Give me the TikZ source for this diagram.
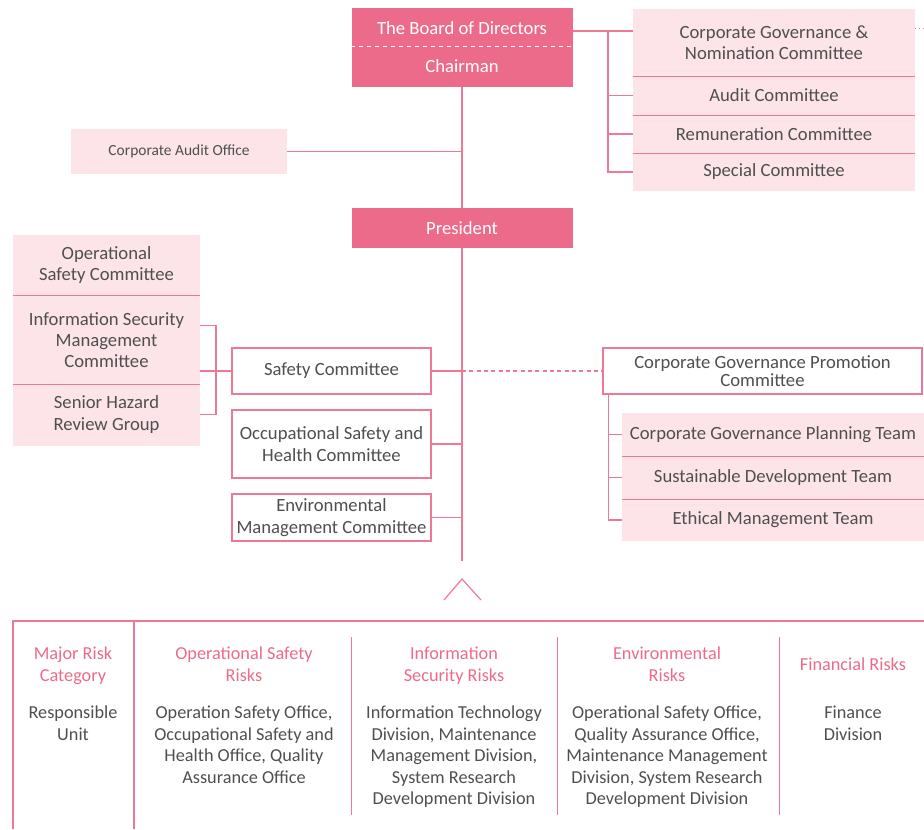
\documentclass[tikz,border=0pt]{standalone}
\usepackage{fontspec}
\setmainfont{Carlito}
\usetikzlibrary{calc}
\definecolor{rose}{HTML}{EC6B8B}
\definecolor{blush}{HTML}{FDE4E9}
\definecolor{rosel}{HTML}{EF7896}
\definecolor{ink}{HTML}{4F4F4F}
\begin{document}
\begin{tikzpicture}[x=0.75pt,y=-0.75pt,
  wh/.style 2 args={minimum width=#1*0.75pt,minimum height=#2*0.75pt,inner sep=0pt},
  head/.style={fill=rose,text=white,font=\fontsize{14}{16}\selectfont},
  headtxt/.style={text=white,font=\fontsize{14}{16}\selectfont},
  soft/.style={fill=blush,text=ink,align=center,font=\fontsize{14}{16}\selectfont},
  outline/.style={draw=rosel,line width=0.9pt,fill=white,text=ink,align=center,font=\fontsize{14}{16}\selectfont},
  link/.style={draw=rosel,line width=0.9pt},
  cell/.style={align=center,anchor=north,inner sep=0pt,text=ink,font=\fontsize{13.7}{16.1}\selectfont},
  cellhead/.style={cell,text=rose,font=\fontsize{13.7}{16.5}\selectfont}]
\useasboundingbox (0,0) rectangle (924,829);
% board and committees
\node[head,wh={221}{79}] (board) at (462,47.5) {};
\node[headtxt] (bod) at (462,28) {The Board of Directors};
\node[headtxt] (chair) at (462,66) {Chairman};
\draw[white,dashed,line width=0.6pt] (board.west |- 0,46) -- (board.east |- 0,46);
\node[soft,wh={282}{67}] (cgn) at (774,42.5) {Corporate Governance \&\\Nomination Committee};
\node[soft,wh={282}{39}] (audit) at (774,95.5) {Audit Committee};
\node[soft,wh={282}{38}] (remu) at (774,134) {Remuneration Committee};
\node[soft,wh={282}{38}] (special) at (774,172) {Special Committee};
\foreach \a in {cgn,audit,remu} \draw[link] (\a.south west) -- (\a.south east);
\coordinate (bj) at (608,31);
\draw[link] (board.east |- bj) -- (cgn.west |- bj);
\draw[link] (bj) |- (special.west);
\draw[link] (bj |- audit.west) -- (audit.west);
\draw[link] (bj |- remu.west) -- (remu.west);
\draw[link,dotted] ([yshift=-15pt]cgn.north east) -- ++(9,0);
% president
\node[soft,wh={216}{45},font=\fontsize{11.6}{13}\selectfont] (cao) at (179,151.5) {Corporate Audit Office};
\node[head,wh={221}{40}] (pres) at (462,228) {President};
\draw[link] (board.south) -- (pres.north);
\draw[link] (cao.east) -- (cao.east -| pres.north);
\coordinate (tend) at (462,561);
\draw[link] (pres.south) -- (tend);
% left group
\node[soft,wh={187}{60}] (osc) at (106.5,265) {Operational\\Safety Committee};
\node[soft,wh={187}{89}] (isc) at (106.5,340) {Information Security\\Management\\Committee};
\node[soft,wh={187}{62}] (shr) at (106.5,414.5) {Senior Hazard\\Review Group};
\foreach \a in {osc,isc} \draw[link] (\a.south west) -- (\a.south east);
\node[outline,wh={199}{46}] (sc) at (331.5,371) {Safety Committee};
\node[outline,wh={199}{68}] (osh) at (331.5,444) {Occupational Safety and\\Health Committee};
\node[outline,wh={199}{47}] (emc) at (331.5,517.5) {Environmental\\Management Committee};
\coordinate (lb) at (216,371);
\draw[link] ([yshift=11pt]isc.east) -| (lb) |- (shr.east);
\draw[link] (sc.west) -- (sc.west -| isc.east);
\draw[link] (sc.east) -- (sc.east -| tend);
\draw[link] (osh.east) -- (osh.east -| tend);
\draw[link] (emc.east) -- (emc.east -| tend);
% governance promotion
\node[outline,wh={319}{46},font=\fontsize{14}{13.5}\selectfont] (cgp) at (762.5,371) {Corporate Governance Promotion\\Committee};
\draw[link,dash pattern=on 3pt off 2.5pt] (sc.east -| tend) -- (cgp.west);
\node[soft,wh={302}{43}] (cgpt) at (773,434.5) {Corporate Governance Planning Team};
\node[soft,wh={302}{43}] (sdt) at (773,477.5) {Sustainable Development Team};
\node[soft,wh={302}{42}] (emt) at (773,520) {Ethical Management Team};
\foreach \a in {cgpt,sdt} \draw[link] (\a.south west) -- (\a.south east);
\coordinate (tj) at ([xshift=4.5pt]cgp.south west);
\draw[link] (tj) |- (emt.west);
\draw[link] (tj |- cgpt.west) -- (cgpt.west);
\draw[link] (tj |- sdt.west) -- (sdt.west);
\draw[link] (444,600) -- (462,579) -- (481,600);
% risk table
\draw[link] (13,829) |- (924,621);
\draw[link] (134,621) -- (134,829);
\foreach \x in {351,557,779} \draw[link,line width=0.7pt] (\x,637) -- (\x,815);
\node[cellhead] (h1) at (73,647) {Major Risk\\Category};
\node[cellhead] (h2) at (244,647) {Operational Safety\\Risks};
\node[cellhead] (h3) at (454,647) {Information\\Security Risks};
\node[cellhead] (h4) at (667,647) {Environmental\\Risks};
\node[cellhead] (h5) at (853,658) {Financial Risks};
\node[cell] (u1) at (73,706) {Responsible\\Unit};
\node[cell] (u2) at (244,706) {Operation Safety Office,\\Occupational Safety and\\Health Office, Quality\\Assurance Office};
\node[cell] (u3) at (454,706) {Information Technology\\Division, Maintenance\\Management Division,\\System Research\\Development Division};
\node[cell] (u4) at (667,706) {Operational Safety Office,\\Quality Assurance Office,\\Maintenance Management\\Division, System Research\\Development Division};
\node[cell] (u5) at (853,706) {Finance\\Division};
\end{tikzpicture}
\end{document}
